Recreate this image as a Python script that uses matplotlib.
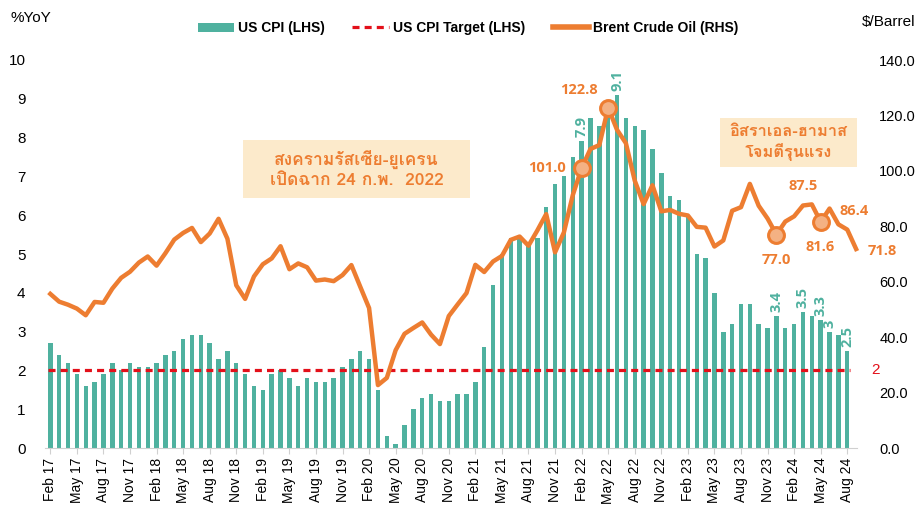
import numpy as np
import matplotlib
matplotlib.use("Agg")
import matplotlib.pyplot as plt
from matplotlib import font_manager
from matplotlib.ft2font import FT2Font
from matplotlib.lines import Line2D
from matplotlib.patches import Patch, Rectangle

# Monthly data, Feb 2017 - Aug 2024 (CPI) / Feb 2017 - Sep 2024 (Brent, month end)
cpi = [2.7, 2.4, 2.2, 1.9, 1.6, 1.7, 1.9, 2.2, 2.0, 2.2, 2.1,
       2.1, 2.2, 2.4, 2.5, 2.8, 2.9, 2.9, 2.7, 2.3, 2.5, 2.2, 1.9,
       1.6, 1.5, 1.9, 2.0, 1.8, 1.6, 1.8, 1.7, 1.7, 1.8, 2.1, 2.3,
       2.5, 2.3, 1.5, 0.3, 0.1, 0.6, 1.0, 1.3, 1.4, 1.2, 1.2, 1.4,
       1.4, 1.7, 2.6, 4.2, 5.0, 5.4, 5.4, 5.3, 5.4, 6.2, 6.8, 7.0,
       7.5, 7.9, 8.5, 8.3, 8.6, 9.1, 8.5, 8.3, 8.2, 7.7, 7.1, 6.5,
       6.4, 6.0, 5.0, 4.9, 4.0, 3.0, 3.2, 3.7, 3.7, 3.2, 3.1, 3.4,
       3.1, 3.2, 3.5, 3.4, 3.3, 3.0, 2.9, 2.5]
brent = [55.6, 52.8, 51.7, 50.3, 47.9, 52.7, 52.4, 57.5, 61.4, 63.6, 66.9,
         69.1, 65.8, 70.3, 75.2, 77.6, 79.4, 74.3, 77.4, 82.7, 75.5, 58.7, 53.8,
         61.9, 66.3, 68.4, 72.8, 64.5, 66.6, 65.2, 60.4, 60.8, 60.2, 62.4, 66.0,
         58.2, 50.5, 22.7, 25.3, 35.3, 41.2, 43.3, 45.3, 40.9, 37.5, 47.6, 51.8,
         55.9, 66.1, 63.5, 67.3, 69.3, 75.1, 76.3, 73.0, 78.5, 84.4, 70.6, 77.8,
         91.2, 101.0, 107.9, 109.3, 122.8, 114.8, 110.0, 96.5, 88.0, 94.8, 85.4, 85.9,
         84.5, 83.9, 79.8, 79.5, 72.7, 74.9, 85.6, 86.9, 95.3, 87.4, 82.8, 77.0,
         81.7, 83.6, 87.5, 87.9, 81.6, 86.4, 80.7, 78.8, 71.8]
cpi_target = 2

months = ["Jan", "Feb", "Mar", "Apr", "May", "Jun",
          "Jul", "Aug", "Sep", "Oct", "Nov", "Dec"]
month_labels = [f"{months[(1 + i) % 12]} {17 + (1 + i) // 12}" for i in range(len(cpi))]

# labelled points
cpi_label_idx = [60, 64, 82, 85, 87, 88, 90]          # Feb22, Jun22, Dec23, Mar24, May24, Jun24, Aug24
cpi_label_txt = ["7.9", "9.1", "3.4", "3.5", "3.3", "3", "2.5"]
brent_marker_idx = [60, 63, 82, 87]                    # Feb22, May22, Dec23, May24
# (index, text, offset in pixels)
brent_labels = [(60, "101.0", (-35, 0)), (63, "122.8", (-29, 18)), (82, "77.0", (0, -25)),
                (85, "87.5", (0, 19)), (87, "81.6", (-1, -25)), (88, "86.4", (25, -2)),
                (91, "71.8", (26, -2))]

box1_text = "สงครามรัสเซีย-ยูเครน\nเปิดฉาก 24 ก.พ.  2022"
box2_text = "อิสราเอล-ฮามาส\nโจมตีรุนแรง"

teal = "#4FB19F"
orange = "#ED7D31"
red = "#E3101A"
box_color = "#FCEACB"


def find_thai_font():
    for f in font_manager.fontManager.ttflist:
        try:
            if 0x0E2A in FT2Font(f.fname).get_charmap():
                return f.name
        except Exception:
            continue
    return "DejaVu Sans"


thai_font = find_thai_font()
plt.rcParams['font.family'] = ['Liberation Sans', 'DejaVu Sans']

W, H = 922, 518
fig = plt.figure(figsize=(W / 100, H / 100), dpi=100)
ax = fig.add_axes([45 / W, 70 / H, 812 / W, 388 / H])
ax2 = ax.twinx()
ax.set_zorder(ax2.get_zorder() + 1)
ax.patch.set_visible(False)

x = np.arange(len(cpi))
xb = np.arange(len(brent))

ax.bar(x, cpi, width=0.5, color=teal, zorder=2)
ax.plot([x[0] - 0.3, x[-1] + 0.3], [cpi_target, cpi_target], color=red, lw=2.3,
        linestyle=(0, (2.2, 1.6)), zorder=3)
ax.text(1.017, cpi_target, "2", transform=ax.get_yaxis_transform(), color=red,
        fontsize=11, va="center", ha="left")

for i, t in zip(cpi_label_idx, cpi_label_txt):
    ax.annotate(t, (i, cpi[i]), xytext=(0, 4), textcoords="offset pixels",
                rotation=90, ha="center", va="bottom", color=teal, fontsize=10.5,
                fontweight="bold", family="Open Sans")

ax.set_ylim(0, 10)
ax.set_yticks(range(0, 11))
ax.set_xlim(-0.6, 91.1)
ax.set_xticks(x[::3])
ax.set_xticklabels(month_labels[::3], rotation=90, fontsize=10)
ax.tick_params(axis="x", length=4, color="#d0d0d0", pad=3)
ax.tick_params(axis="y", length=0, pad=14, labelsize=11)
for s in ["top", "right", "left"]:
    ax.spines[s].set_visible(False)
ax.spines["bottom"].set_color("#d0d0d0")

# Brent drawn on the CPI axes (scaled 140 -> 10) so it sits above the bars
scale = 14.0
ax.plot(xb, np.array(brent) / scale, color=orange, lw=3.2, zorder=4,
        solid_joinstyle="round", clip_on=False)
ax.scatter(np.array(brent_marker_idx), np.array(brent)[brent_marker_idx] / scale,
           s=130, facecolor="#F4B183", edgecolor=orange, linewidth=2.2, zorder=5)
for i, t, off in brent_labels:
    ax.annotate(t, (i, brent[i] / scale), xytext=off, textcoords="offset pixels",
                ha="center", va="center", color=orange, fontsize=10.5,
                fontweight="bold", family="Open Sans")

ax2.set_ylim(0, 140)
ax2.set_yticks(range(0, 141, 20))
ax2.set_yticklabels([f"{v:.1f}" for v in range(0, 141, 20)])
ax2.tick_params(axis="y", length=0, pad=16, labelsize=10.5)
for s in ax2.spines.values():
    s.set_visible(False)

# annotation boxes (pixel bounds: x0, y0 from top, width, height, font size)
for (bx, by, bw, bh, fs), txt in [((243, 140, 227, 58, 12.5), box1_text),
                                  ((720, 118, 137, 49, 11.8), box2_text)]:
    fig.patches.append(Rectangle((bx / W, 1 - (by + bh) / H), bw / W, bh / H,
                                 transform=fig.transFigure, facecolor=box_color,
                                 edgecolor="none", zorder=0))
    fig.text((bx + bw / 2) / W, 1 - (by + bh / 2) / H, txt, fontsize=fs,
             fontweight="bold", color=orange, ha="center", va="center",
             family=[thai_font, "DejaVu Sans"], linespacing=1.3)

fig.text(10 / W, 1 - 18 / H, "%YoY", fontsize=11, va="center", ha="left")
fig.text(915 / W, 1 - 22 / H, "$/Barrel", fontsize=11, va="center", ha="right")

handles = [Patch(facecolor=teal, label="US CPI (LHS)"),
           Line2D([], [], color=red, lw=2.3, linestyle=(0, (2.2, 1.6)), label="US CPI Target (LHS)"),
           Line2D([], [], color=orange, lw=4, label="Brent Crude Oil (RHS)")]
fig.legend(handles=handles, loc="center", bbox_to_anchor=(468 / W, 1 - 28 / H), ncol=3,
           frameon=False, prop={"weight": "bold", "size": 10}, handlelength=2.6,
           handleheight=0.6, columnspacing=2.0, handletextpad=0.3)

fig.savefig("out.png", dpi=100, facecolor="white")
